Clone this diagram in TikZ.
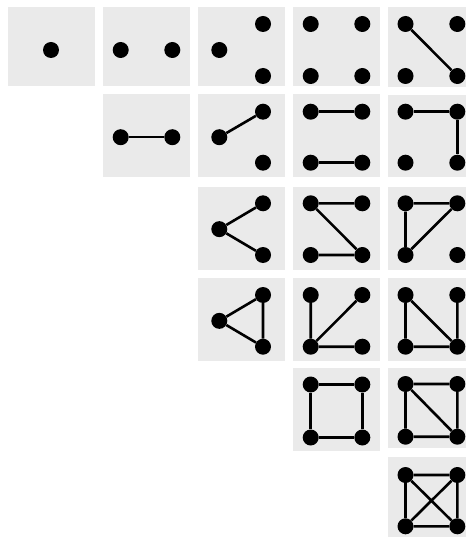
\documentclass[tikz,border=0pt]{standalone}
\definecolor{cellgray}{HTML}{EAEAEA}
\tikzset{
  cellbox/.style={fill=cellgray, draw=none},
  vtx/.style={circle, fill=black, draw=none, inner sep=0pt, minimum size=16pt},
  gedge/.style={line width=2.6pt, black}
}
\newcommand\fourv[5]{%
  \node[vtx] (#1tl) at (#2,#4) {};
  \node[vtx] (#1tr) at (#3,#4) {};
  \node[vtx] (#1bl) at (#2,#5) {};
  \node[vtx] (#1br) at (#3,#5) {};}
\newcommand\threev[3]{%
  \node[vtx] (#1l) at (219.3,{(#2+#3)/2}) {};
  \node[vtx] (#1t) at (263,#2) {};
  \node[vtx] (#1b) at (263,#3) {};}
\begin{document}
\begin{tikzpicture}[x=1pt,y=-1pt]
\useasboundingbox (0,0) rectangle (466,537);
% cells row 1
\fill[cellbox] (8.3,6.7) rectangle (95,86.3);
\fill[cellbox] (103.3,6.7) rectangle (190,86.3);
\fill[cellbox] (198.3,6.7) rectangle (284.5,86.3);
\fill[cellbox] (293.3,6.7) rectangle (379.5,86.3);
\fill[cellbox] (388.3,6.7) rectangle (466,87);
% row 2
\fill[cellbox] (103.3,94.5) rectangle (190,177.3);
\fill[cellbox] (198.3,94.5) rectangle (284.5,177.3);
\fill[cellbox] (293.3,94.5) rectangle (379.5,177.3);
\fill[cellbox] (388.3,95.5) rectangle (466,177);
% row 3
\fill[cellbox] (198.3,186.7) rectangle (284.5,270);
\fill[cellbox] (293.3,186.7) rectangle (379.5,270);
\fill[cellbox] (388.3,186.7) rectangle (466,270);
% row 4
\fill[cellbox] (198.3,278.3) rectangle (284.5,360.5);
\fill[cellbox] (293.3,278.3) rectangle (379.5,360.5);
\fill[cellbox] (388.3,278.3) rectangle (466,360.5);
% row 5
\fill[cellbox] (293.3,368.3) rectangle (379.5,450.5);
\fill[cellbox] (388.3,368.3) rectangle (466,448);
% row 6
\fill[cellbox] (388.3,456.7) rectangle (466,537);

% row 1
\node[vtx] (aa) at (51,50) {};
\node[vtx] (ba1) at (120.7,50) {};
\node[vtx] (ba2) at (172.3,50) {};
\threev{ca}{24}{76}
\fourv{da}{310.7}{362.3}{24}{76}
\fourv{ea}{405.5}{457.3}{24}{76}
\draw[gedge] (eatl) -- (eabr);

% row 2
\node[vtx] (bb1) at (120.7,137.2) {};
\node[vtx] (bb2) at (172.3,137.2) {};
\draw[gedge] (bb1) -- (bb2);
\threev{cb}{111.7}{162.7}
\draw[gedge] (cbl) -- (cbt);
\fourv{db}{310.7}{362.3}{111.7}{162.7}
\draw[gedge] (dbtl) -- (dbtr) (dbbl) -- (dbbr);
\fourv{eb}{405.5}{457.3}{111.7}{162.7}
\draw[gedge] (ebtl) -- (ebtr) -- (ebbr);

% row 3
\threev{cc}{203.3}{255}
\draw[gedge] (cct) -- (ccl) -- (ccb);
\fourv{dc}{310.7}{362.3}{203.3}{255}
\draw[gedge] (dctr) -- (dctl) -- (dcbr) -- (dcbl);
\fourv{ec}{405.5}{457.3}{203.3}{255}
\draw[gedge] (ectr) -- (ectl) -- (ecbl) -- (ectr);

% row 4
\threev{cd}{295}{346.7}
\draw[gedge] (cdt) -- (cdl) -- (cdb) -- (cdt);
\fourv{dd}{310.7}{362.3}{295}{346.7}
\draw[gedge] (ddtl) -- (ddbl) -- (ddtr) (ddbl) -- (ddbr);
\fourv{ed}{405.5}{457.3}{295}{346.7}
\draw[gedge] (edbl) -- (edtl) -- (edbr) -- (edtr) (edbl) -- (edbr);

% row 5
\fourv{de}{310.7}{362.3}{384.5}{437.5}
\draw[gedge] (detl) -- (detr) -- (debr) -- (debl) -- (detl);
\fourv{ee}{405.5}{457.3}{384}{436.7}
\draw[gedge] (eetl) -- (eetr) -- (eebr) -- (eebl) -- (eetl) -- (eebr);

% row 6
\fourv{ef}{405.5}{457.3}{475}{526.3}
\draw[gedge] (eftl) -- (eftr) -- (efbr) -- (efbl) -- (eftl) -- (efbr) (eftr) -- (efbl);
\end{tikzpicture}
\end{document}
